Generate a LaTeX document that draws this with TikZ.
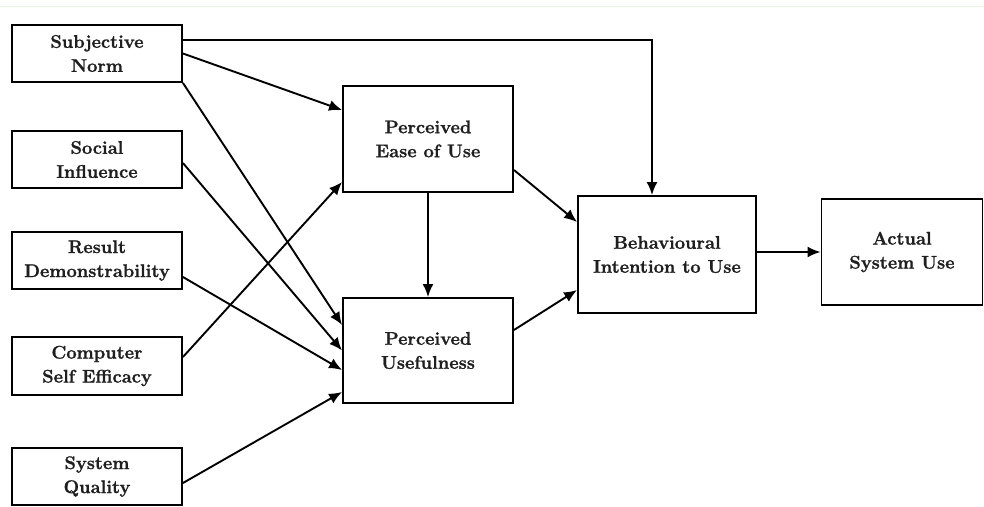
\documentclass[tikz,border=0pt]{standalone}
\usepackage{fontspec}
\setmainfont{Latin Modern Roman}[BoldFeatures={FakeBold=1.2}]
\usetikzlibrary{arrows.meta,calc}
\begin{document}
\begin{tikzpicture}[x=1pt,y=-1pt,
  box/.style={draw=black,line width=1.9pt,inner sep=0pt,align=center,
    font=\fontsize{18.3}{24}\selectfont\bfseries,text=black!88},
  conn/.style={line width=1.9pt,-{Latex[length=13pt,width=11pt]}}]
\useasboundingbox (0,0) rectangle (984,506);
\draw[line width=0.8pt,color={rgb,255:red,228;green,246;blue,222}] (0,6) -- (984,6);
% left column
\node[box,minimum width=170pt,minimum height=57pt] (SN) at (97,53.5) {Subjective\\Norm};
\node[box,minimum width=170pt,minimum height=57pt] (SI) at (97,159.5) {Social\\Influence};
\node[box,minimum width=170pt,minimum height=57pt] (RD) at (97,260.5) {Result\\Demonstrability};
\node[box,minimum width=170pt,minimum height=58pt] (CSE) at (97,366) {Computer\\Self Efficacy};
\node[box,minimum width=170pt,minimum height=57pt] (SQ) at (97,476.5) {System\\Quality};
% middle
\node[box,minimum width=170pt,minimum height=106pt] (PEOU) at (428,139) {Perceived\\Ease of Use};
\node[box,minimum width=170pt,minimum height=105pt] (PU) at (428,350.5) {Perceived\\Usefulness};
% right
\node[box,minimum width=178pt,minimum height=117pt] (BI) at (667,254.5) {Behavioural\\Intention to Use};
\node[box,minimum width=161pt,minimum height=106pt] (ASU) at (902,252) {Actual\\System Use};
% connectors
\draw[conn] ($(SN.east)+(0,-13.5)$) -| ($(BI.north)+(-15,0)$);
\draw[conn] (SN.east) -- ($(PEOU.west)+(0,-29)$);
\draw[conn] (SN.south east) -- ($(PU.west)+(0,-25.5)$);
\draw[conn] ($(SI.east)+(0,3.5)$) -- (PU.west);
\draw[conn] ($(RD.east)+(0,16.5)$) -- ($(PU.west)+(0,19.5)$);
\draw[conn] ($(CSE.east)+(0,-9)$) -- ($(PEOU.west)+(0,43)$);
\draw[conn] ($(SQ.east)+(0,6.5)$) -- ($(PU.west)+(0,41.5)$);
\draw[conn] (PEOU.south) -- (PU.north);
\draw[conn] ($(PEOU.east)+(0,31)$) -- ($(BI.west)+(0,-32.5)$);
\draw[conn] ($(PU.east)+(0,-20.5)$) -- ($(BI.west)+(0,35.5)$);
\draw[conn] (BI.east |- ASU.west) -- (ASU.west);
\end{tikzpicture}
\end{document}
